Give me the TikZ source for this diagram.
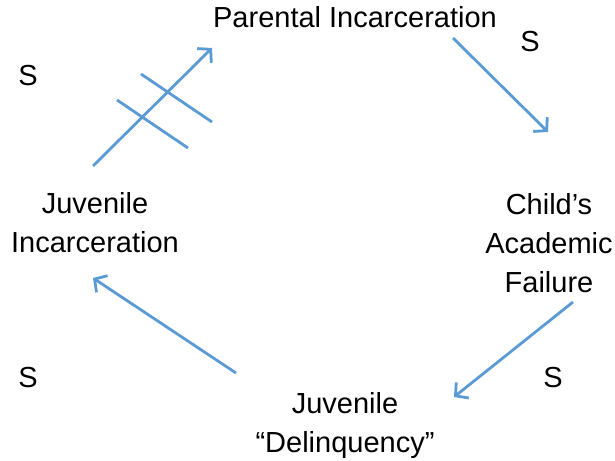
\documentclass[tikz,border=0pt]{standalone}
\usepackage{fontspec}
\setmainfont{Liberation Sans}
\usetikzlibrary{arrows.meta}
\definecolor{lineblue}{RGB}{91,155,213}
\begin{document}
\begin{tikzpicture}[x=1bp,y=-1bp,
  lbl/.style={font=\fontsize{29bp}{39bp}\selectfont, align=center, inner sep=0pt, text=black},
  conn/.style={draw=lineblue, line width=2.8bp, -{Straight Barb[length=9bp,width=20bp,line width=2.8bp]}},
  hash/.style={draw=lineblue, line width=2.8bp}]
\useasboundingbox (0,0) rectangle (615,461);
\node[lbl] (pi) at (355,17) {Parental Incarceration};
\node[lbl] (ji) at (95,223) {Juvenile\\Incarceration};
\node[lbl] (caf) at (549,243) {Child’s\\Academic\\Failure};
\node[lbl] (jd) at (345,425) {Juvenile\\“Delinquency”};
\node[lbl] (s1) at (28,76) {S};
\node[lbl] (s2) at (530,42) {S};
\node[lbl] (s3) at (28,378) {S};
\node[lbl] (s4) at (553,378) {S};
\coordinate (a1s) at (93,166);
\coordinate (a1e) at (212,48);
\coordinate (a2s) at (453,38);
\coordinate (a2e) at (548,132);
\coordinate (a3s) at (573,302);
\coordinate (a3e) at (454,397);
\coordinate (a4s) at (236,373);
\coordinate (a4e) at (93,278);
\coordinate (h1s) at (117,100);
\coordinate (h1e) at (188,148);
\coordinate (h2s) at (141,74);
\coordinate (h2e) at (212,122);
\draw[conn] (a1s) -- (a1e);
\draw[conn] (a2s) -- (a2e);
\draw[conn] (a3s) -- (a3e);
\draw[conn] (a4s) -- (a4e);
\draw[hash] (h1s) -- (h1e);
\draw[hash] (h2s) -- (h2e);
\end{tikzpicture}
\end{document}
